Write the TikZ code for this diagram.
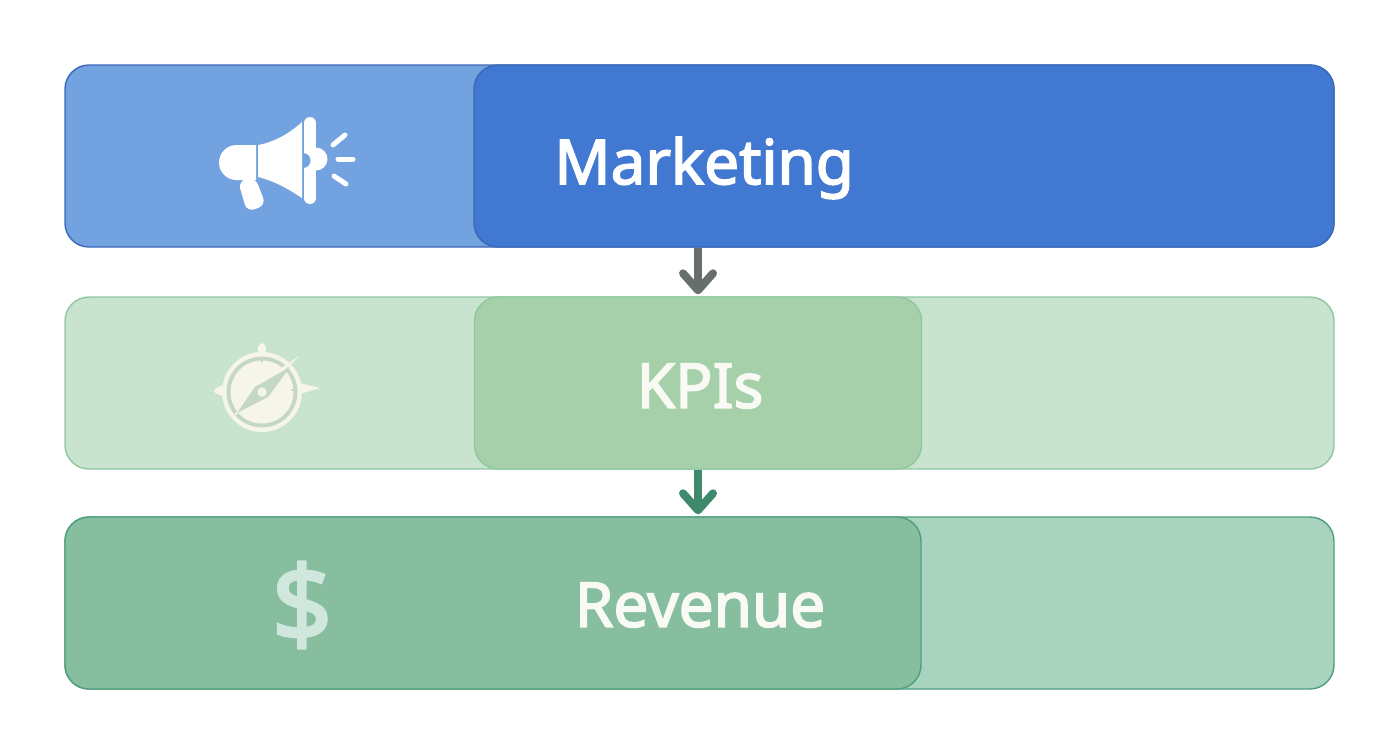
\documentclass[tikz,border=0pt]{standalone}
\usepackage{fontspec}
\setmainfont{Noto Sans}[AutoFakeBold=2.6]
\usetikzlibrary{arrows.meta}
\definecolor{mktlight}{HTML}{72A2E0}
\definecolor{mktdark}{HTML}{4178D2}
\definecolor{mktline}{HTML}{3B69B5}
\definecolor{kpilight}{HTML}{C8E3CF}
\definecolor{kpidark}{HTML}{A5D0A9}
\definecolor{kpiline}{HTML}{8FC79F}
\definecolor{revlight}{HTML}{A8D3BF}
\definecolor{revdark}{HTML}{87BEA0}
\definecolor{revline}{HTML}{4F9E7C}
\definecolor{cream}{HTML}{F5F6E9}
\definecolor{ringgray}{HTML}{C5D8C4}
\definecolor{arrowgray}{HTML}{666E6E}
\definecolor{arrowgreen}{HTML}{3F8A6C}
\tikzset{
	bar/.style={draw,rounded corners=12pt,line width=0.7pt,inner sep=0pt,minimum height=#1},
	label/.style={font=\fontsize{31}{31}\selectfont\bfseries,inner sep=0pt},
	flow/.style={line width=4pt,-{Straight Barb[length=8.5pt,width=15pt,round]},shorten >=1pt},
	ray/.style={white,line width=2.5pt,line cap=round}
}
\begin{document}
\begin{tikzpicture}[x=0.5pt,y=-0.5pt]
	\useasboundingbox (0,0) rectangle (1392,752);
	%bars
	\node[bar=91pt,minimum width=634.5pt,fill=mktlight,draw=mktline] (marketingbar) at (699.5,156) {};
	\node[bar=91pt,minimum width=430pt,fill=mktdark,draw=mktline] (marketing) at (904,156) {};
	\node[bar=86pt,minimum width=634.5pt,fill=kpilight,draw=kpiline] (kpisbar) at (699.5,383) {};
	\node[bar=86pt,minimum width=223.5pt,fill=kpidark,draw=kpiline] (kpis) at (698,383) {};
	\node[bar=86pt,minimum width=634.5pt,fill=revlight,draw=revline] (revenuebar) at (699.5,603) {};
	\node[bar=86pt,minimum width=428pt,fill=revdark,draw=revline] (revenue) at (493,603) {};
	%labels
	\node[label,text=white,anchor=west] (marketingtext) at (554,168) {Marketing};
	\node[label,text=cream!50!white] (kpistext) at (700,386) {KPIs};
	\node[label,text=cream!50!white] (revenuetext) at (700,605) {Revenue};
	\node[font=\fontsize{53}{53}\selectfont\bfseries,text=revlight!55!white,inner sep=0pt] (dollar) at (302,605) {\$};
	%arrows
	\draw[flow,arrowgray] (marketing.south -| kpis.north) -- (kpis.north);
	\draw[flow,arrowgreen] (kpis.south) -- (revenuebar.north -| kpis.south);
	%megaphone
	\fill[white] (256,145) -- (236.5,145) arc (270:90:17.5) -- (256,180) -- cycle;
	\fill[white] (258,145) .. controls (275,142) and (290,133) .. (302,122) -- (302,198) .. controls (290,190) and (275,181) .. (258,177) -- cycle;
	\draw[white,line width=6pt,line cap=round] (310,123) -- (310,198);
	\fill[white] (316,147.5) arc (-90:90:11.5) -- cycle;
	\fill[mktlight] (303,153) arc (-90:90:7.5) -- cycle;
	\fill[white,rounded corners=4pt] (238,181) -- (255,177) -- (266,205) -- (247,212) -- cycle;
	\foreach \xa/\ya/\xb/\yb in {333/145/345/135,338/159/353/159,334/176/346/184}{
		\draw[ray] (\xa,\ya) -- (\xb,\yb);
	}
	%compass
	\fill[cream] (262,392) circle (40);
	\fill[ringgray] (262,392) circle (35.5);
	\fill[cream] (262,392) circle (31.5);
	\fill[cream,rounded corners=2pt] (257,353) -- (259,343) -- (265,343) -- (267,353) -- cycle;
	\fill[cream,rounded corners=1pt] (223,385) -- (214,389) -- (214,393) -- (223,396) -- cycle;
	\fill[cream] (300,383) -- (320,388) -- (300,394) -- cycle;
	\fill[cream] (299,356) -- (284,366) -- (238,410) -- (232,418) -- (245,408) -- (291,364) -- cycle;
	\fill[ringgray] (290,367) -- (255,387) -- (237,413) -- (268,397) -- cycle;
	\fill[cream] (262,392) circle (4.7);
	\draw[ringgray,line width=0.6pt] (262,358) -- (262,362);
	\draw[ringgray,line width=0.6pt] (291,390) -- (294,390);
\end{tikzpicture}
\end{document}
